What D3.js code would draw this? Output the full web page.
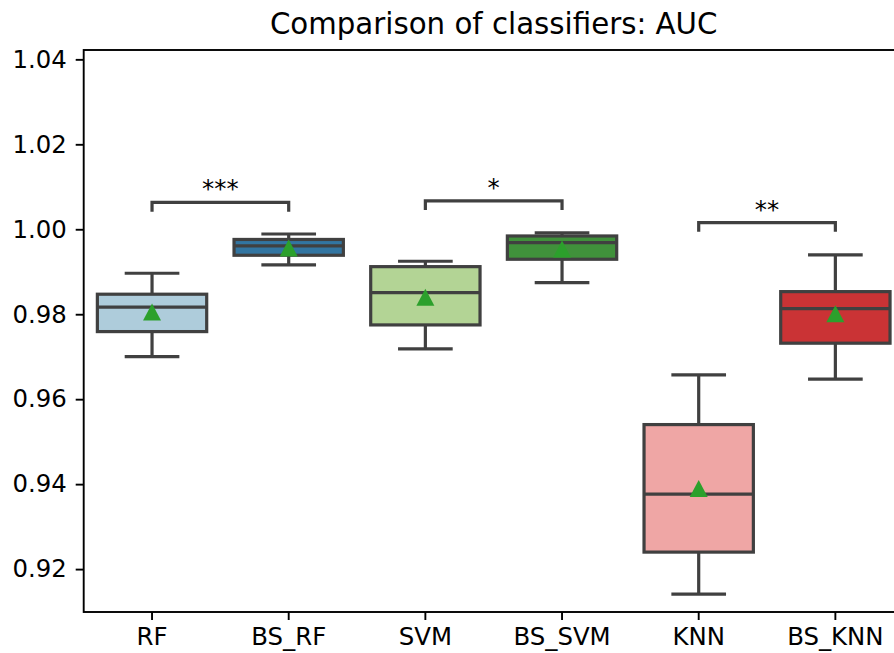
<!DOCTYPE html>
<html>
<head>
<meta charset="utf-8">
<script src="https://cdn.jsdelivr.net/npm/d3@7"></script>
<style>
  body { margin: 0; background: #fff; }
  text { font-family: "DejaVu Sans", sans-serif; }
</style>
</head>
<body>
<div id="graph-container"></div>
<script>
// Data
const classifiers = ["RF", "BS_RF", "SVM", "BS_SVM", "KNN", "BS_KNN"];
const whiskerLow = [0.97002, 0.99160, 0.97184, 0.98744, 0.91412, 0.96471];
const q1 = [0.97591, 0.99388, 0.97748, 0.99294, 0.92400, 0.97318];
const medians = [0.98165, 0.99607, 0.98508, 0.99685, 0.93765, 0.98132];
const q3 = [0.98471, 0.99760, 0.99120, 0.99842, 0.95402, 0.98532];
const whiskerHigh = [0.98965, 0.99889, 0.99247, 0.99913, 0.96572, 0.99395];
const means = [0.98054, 0.99560, 0.98402, 0.99536, 0.93896, 0.98014];
const colors = ["#aeccdb", "#3275a1", "#b3d495", "#40913b", "#efa6a5", "#ca3335"];
const yTicks = [0.92, 0.94, 0.96, 0.98, 1.00, 1.02, 1.04];

// Significance annotations
const pairLeft = ["RF", "SVM", "KNN"];
const pairRight = ["BS_RF", "BS_SVM", "BS_KNN"];
const bracketTop = [1.00633, 1.00666, 1.00155];
const bracketBottom = [1.00414, 1.00454, 0.99944];
const stars = ["***", "*", "**"];

// Chart dimensions
const W = 894, H = 653;
const margin = { top: 50, left: 83.7 };
const plotW = 820, plotH = 562;
const gray = "#404040";
const fontSize = 24.4;

const svg = d3.select("#graph-container")
  .append("svg")
    .attr("width", W)
    .attr("height", H);

const x = d3.scaleBand()
    .domain(classifiers)
    .range([margin.left, margin.left + plotW])
    .padding(0);

const y = d3.scaleLinear()
    .domain([0.9099, 1.0422])
    .range([margin.top + plotH, margin.top]);

const boxW = x.bandwidth() * 0.8;
const capW = boxW * 0.5;

const rows = classifiers.map((c, i) => ({
  name: c, lo: whiskerLow[i], q1: q1[i], med: medians[i], q3: q3[i],
  hi: whiskerHigh[i], mean: means[i], color: colors[i]
}));

// Boxes
const g = svg.append("g");
const box = g.selectAll("g.box").data(rows).join("g").attr("class", "box");
const cx = d => x(d.name) + x.bandwidth() / 2;

// whiskers
box.append("line")
    .attr("x1", cx).attr("x2", cx)
    .attr("y1", d => y(d.hi)).attr("y2", d => y(d.q3))
    .attr("stroke", gray).attr("stroke-width", 3.2);
box.append("line")
    .attr("x1", cx).attr("x2", cx)
    .attr("y1", d => y(d.q1)).attr("y2", d => y(d.lo))
    .attr("stroke", gray).attr("stroke-width", 3.2);
// caps
box.append("line")
    .attr("x1", d => cx(d) - capW / 2).attr("x2", d => cx(d) + capW / 2)
    .attr("y1", d => y(d.hi)).attr("y2", d => y(d.hi))
    .attr("stroke", gray).attr("stroke-width", 3.2);
box.append("line")
    .attr("x1", d => cx(d) - capW / 2).attr("x2", d => cx(d) + capW / 2)
    .attr("y1", d => y(d.lo)).attr("y2", d => y(d.lo))
    .attr("stroke", gray).attr("stroke-width", 3.2);
// box
box.append("rect")
    .attr("x", d => cx(d) - boxW / 2)
    .attr("width", boxW)
    .attr("y", d => y(d.q3))
    .attr("height", d => y(d.q1) - y(d.q3))
    .attr("fill", d => d.color)
    .attr("stroke", gray).attr("stroke-width", 3.2);
// median
box.append("line")
    .attr("x1", d => cx(d) - boxW / 2).attr("x2", d => cx(d) + boxW / 2)
    .attr("y1", d => y(d.med)).attr("y2", d => y(d.med))
    .attr("stroke", gray).attr("stroke-width", 3.2);
// mean marker (matplotlib-style triangle)
box.append("path")
    .attr("transform", d => `translate(${cx(d)},${y(d.mean)})`)
    .attr("d", "M0,-8.5L9,8.5L-9,8.5Z")
    .attr("fill", "#2ca02c");

// Significance brackets
const ann = pairLeft.map((a, i) => ({
  a, b: pairRight[i], top: bracketTop[i], bottom: bracketBottom[i], label: stars[i]
}));
const br = svg.append("g").selectAll("g").data(ann).join("g");
br.append("path")
    .attr("d", d => {
      const x1 = x(d.a) + x.bandwidth() / 2, x2 = x(d.b) + x.bandwidth() / 2;
      return `M${x1},${y(d.bottom)}L${x1},${y(d.top)}L${x2},${y(d.top)}L${x2},${y(d.bottom)}`;
    })
    .attr("fill", "none")
    .attr("stroke", gray)
    .attr("stroke-width", 3.2);
br.append("text")
    .attr("x", d => (x(d.a) + x(d.b) + x.bandwidth()) / 2)
    .attr("y", d => y(d.top) - 5)
    .attr("text-anchor", "middle")
    .attr("font-size", fontSize)
    .attr("fill", "#000")
    .text(d => d.label);

// Axes
const yAxis = svg.append("g")
    .attr("transform", `translate(${margin.left},0)`)
    .call(d3.axisLeft(y).tickValues(yTicks).tickFormat(d3.format(".2f"))
      .tickSize(8).tickPadding(9));
const xAxis = svg.append("g")
    .attr("transform", `translate(0,${margin.top + plotH})`)
    .call(d3.axisBottom(x).tickSize(8).tickPadding(8));

[xAxis, yAxis].forEach(a => {
  a.select(".domain").remove();
  a.selectAll(".tick line").attr("stroke", "#000").attr("stroke-width", 1.9);
  a.selectAll(".tick text").attr("font-size", fontSize).attr("fill", "#000")
    .attr("font-family", "DejaVu Sans");
});

// Spines
svg.append("rect")
    .attr("x", margin.left)
    .attr("y", margin.top)
    .attr("width", plotW)
    .attr("height", plotH)
    .attr("fill", "none")
    .attr("stroke", "#000")
    .attr("stroke-width", 1.9);

// Title
svg.append("text")
    .attr("x", margin.left + plotW / 2)
    .attr("y", 34)
    .attr("text-anchor", "middle")
    .attr("font-size", fontSize * 1.2)
    .attr("fill", "#000")
    .text("Comparison of classifiers: AUC");
</script>
</body>
</html>
